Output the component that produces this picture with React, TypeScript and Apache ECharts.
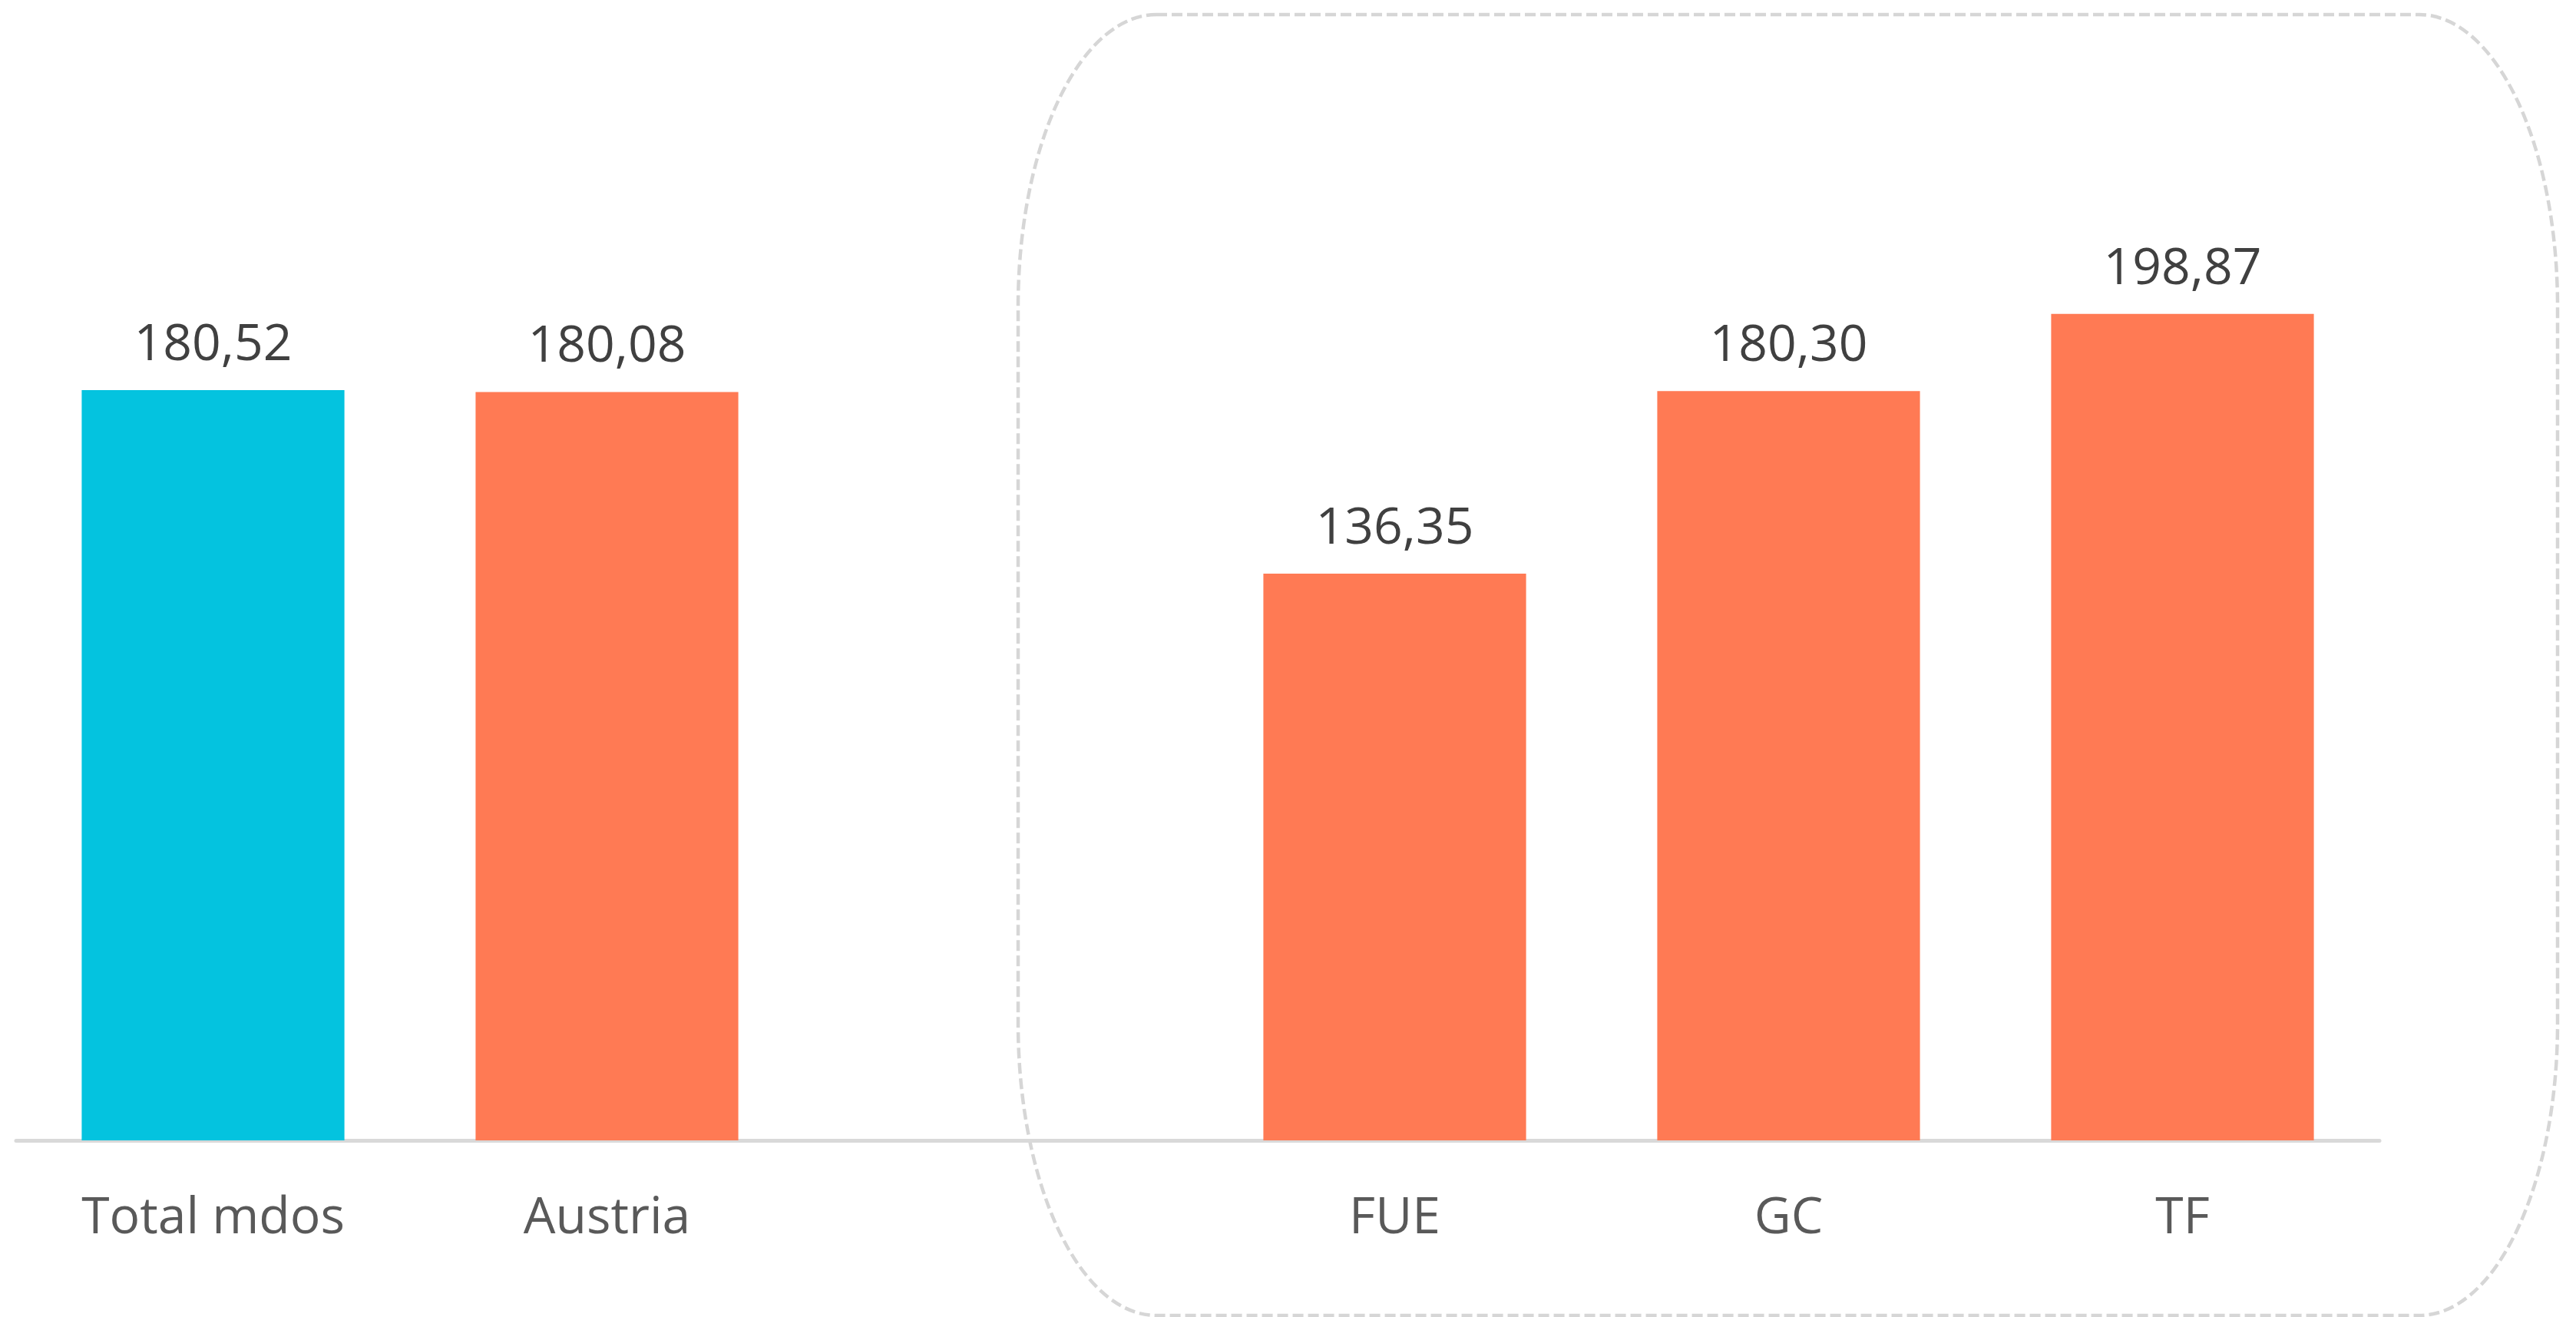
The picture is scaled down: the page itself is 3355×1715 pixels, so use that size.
import React, { useEffect, useRef } from "react";
import * as echarts from "echarts";

const categories = ["Total mdos", "Austria", "", "FUE", "GC", "TF"];
const values: (number | null)[] = [180.52, 180.08, null, 136.35, 180.3, 198.87];
const barColors = ["#04C3DF", "#FF7A54", "#FF7A54", "#FF7A54", "#FF7A54", "#FF7A54"];

const W = 3355;
const H = 1715;

const framePath =
  "M 1506 19 L 3151 19 A 180 380 0 0 1 3331 399 L 3331 1333 A 180 380 0 0 1 3151 1713 " +
  "L 1506 1713 A 180 380 0 0 1 1326 1333 L 1326 399 A 180 380 0 0 1 1506 19 Z";

let registered = false;

export default function App() {
  const ref = useRef<HTMLDivElement>(null);
  useEffect(() => {
    if (!ref.current) return;
    if (!registered) {
      echarts.graphic.registerShape("frame", echarts.graphic.extendPath(framePath, {}) as any);
      registered = true;
    }
    const chart = echarts.init(ref.current, null, { renderer: "svg" });
    chart.setOption({
      animation: false,
      backgroundColor: "#ffffff",
      grid: { left: 21, right: 256, top: 132, bottom: H - 1485, containLabel: false },
      xAxis: {
        type: "category",
        data: categories,
        axisLine: { show: true, lineStyle: { color: "#d9d9d9", width: 5 } },
        axisTick: { show: false },
        axisLabel: {
          color: "#595959",
          fontFamily: "Open Sans",
          fontSize: 66,
          margin: 62,
        },
      },
      yAxis: {
        type: "value",
        min: 0,
        max: 250,
        show: false,
        splitLine: { show: false },
      },
      series: [
        {
          type: "bar",
          barCategoryGap: "33.3%",
          data: values.map((v, i) => ({ value: v, itemStyle: { color: barColors[i] } })),
          label: {
            show: true,
            position: "top",
            distance: 32,
            color: "#404040",
            fontFamily: "Open Sans",
            fontSize: 66,
            formatter: (p: any) => (p.value == null ? "" : Number(p.value).toFixed(2).replace(".", ",")),
          },
        },
      ],
      graphic: [
        {
          type: "frame",
          x: 0,
          y: 0,
          silent: true,
          z: -1,
          style: { fill: "none", stroke: "#d6d6d6", lineWidth: 4.5, lineDash: [14, 6] },
        } as any,
      ],
    });
    return () => chart.dispose();
  }, []);
  return (
    <div
      ref={ref}
      style={{ position: "absolute", left: 0, top: 0, width: W, height: H }}
    />
  );
}
